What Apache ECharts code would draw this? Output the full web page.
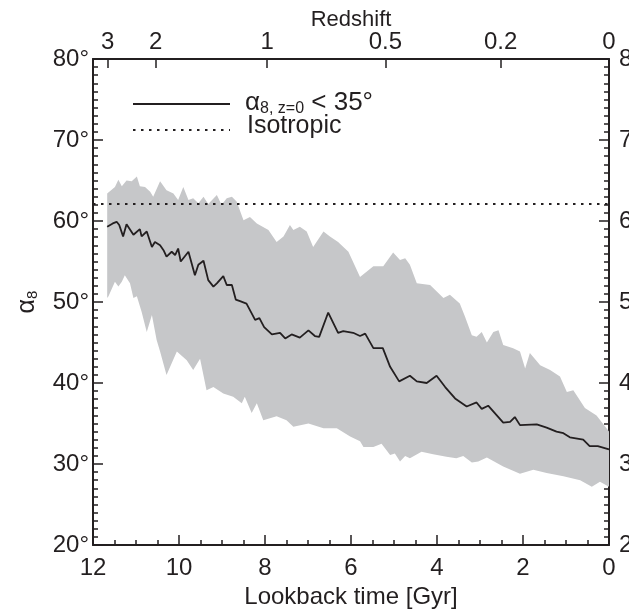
<!DOCTYPE html>
<html>
<head>
<meta charset="utf-8">
<script src="https://cdn.jsdelivr.net/npm/echarts@6/dist/echarts.min.js"></script>
<style>
html, body { margin: 0; padding: 0; background: #fff; }
#chart { width: 629px; height: 612px; }
</style>
</head>
<body>
<div id="chart"></div>
<script>
// median alpha_8 vs lookback time [Gyr]
const lineT = [11.67, 11.54, 11.45, 11.39, 11.30, 11.22, 11.06, 10.91, 10.87, 10.75, 10.63, 10.56, 10.44, 10.36, 10.29, 10.17, 10.09, 10.02, 9.96, 9.78, 9.63, 9.55, 9.43, 9.32, 9.20, 9.12, 8.97, 8.89, 8.77, 8.68, 8.58, 8.43, 8.23, 8.13, 8.02, 7.84, 7.65, 7.53, 7.38, 7.19, 6.99, 6.84, 6.74, 6.53, 6.30, 6.18, 5.95, 5.79, 5.67, 5.48, 5.26, 5.09, 4.88, 4.63, 4.47, 4.24, 4.01, 3.81, 3.58, 3.31, 3.08, 2.96, 2.81, 2.46, 2.30, 2.19, 2.07, 1.68, 1.45, 1.22, 1.06, 0.91, 0.60, 0.45, 0.26, 0.00]
const lineV = [59.3, 59.7, 59.9, 59.5, 58.1, 59.6, 58.3, 59.0, 58.1, 58.7, 56.8, 57.4, 57.0, 56.4, 55.6, 56.2, 55.8, 56.6, 55.0, 56.2, 53.3, 54.6, 55.1, 52.7, 51.9, 52.3, 53.2, 52.1, 52.1, 50.3, 50.1, 49.8, 47.8, 48.0, 46.9, 46.0, 46.2, 45.5, 46.0, 45.6, 46.5, 45.8, 45.7, 48.7, 46.2, 46.4, 46.2, 45.8, 46.1, 44.3, 44.3, 42.0, 40.2, 40.9, 40.2, 40.0, 40.9, 39.5, 38.1, 37.1, 37.6, 36.8, 37.2, 35.1, 35.2, 35.8, 34.8, 34.9, 34.5, 34.0, 33.8, 33.3, 33.0, 32.2, 32.2, 31.8]

// upper edge of the shaded range
const upperT = [11.67, 11.49, 11.41, 11.33, 11.22, 11.10, 10.98, 10.91, 10.79, 10.67, 10.60, 10.44, 10.29, 10.13, 10.02, 9.90, 9.78, 9.67, 9.55, 9.43, 9.32, 9.12, 9.01, 8.89, 8.77, 8.66, 8.50, 8.35, 8.19, 7.92, 7.73, 7.57, 7.42, 7.34, 7.19, 7.03, 6.88, 6.64, 6.49, 6.30, 6.06, 5.79, 5.48, 5.25, 5.02, 4.86, 4.74, 4.63, 4.47, 4.16, 3.85, 3.70, 3.47, 3.35, 3.19, 3.08, 2.96, 2.84, 2.69, 2.57, 2.46, 2.23, 2.07, 1.95, 1.84, 1.60, 1.37, 1.14, 0.98, 0.83, 0.56, 0.29, 0.00]
const upperV = [63.4, 64.2, 65.1, 64.3, 65.0, 64.9, 65.5, 64.3, 64.2, 63.6, 63.0, 64.9, 63.8, 63.4, 62.6, 64.2, 62.6, 62.8, 62.2, 63.0, 62.1, 63.2, 62.0, 62.8, 63.0, 62.4, 60.1, 60.5, 59.7, 58.9, 57.4, 58.1, 59.5, 58.9, 59.3, 58.7, 56.8, 58.7, 58.1, 57.4, 56.2, 53.1, 54.4, 54.4, 56.1, 55.2, 55.4, 54.6, 52.3, 52.1, 50.5, 50.9, 49.8, 48.2, 45.9, 45.7, 46.3, 45.0, 46.3, 46.5, 44.7, 44.3, 43.9, 41.8, 43.7, 42.2, 41.6, 40.8, 38.9, 39.1, 36.9, 36.0, 34.0]

// lower edge of the shaded range
const lowerT = [11.67, 11.64, 11.49, 11.41, 11.33, 11.26, 11.14, 11.06, 10.98, 10.87, 10.75, 10.63, 10.52, 10.44, 10.29, 10.05, 9.82, 9.67, 9.51, 9.36, 9.20, 8.97, 8.74, 8.54, 8.47, 8.31, 8.19, 8.04, 7.73, 7.50, 7.34, 6.99, 6.64, 6.33, 6.02, 5.79, 5.71, 5.48, 5.29, 5.09, 4.98, 4.86, 4.74, 4.63, 4.36, 4.09, 3.78, 3.55, 3.39, 3.19, 3.04, 2.84, 2.46, 2.07, 1.76, 1.45, 1.06, 0.67, 0.40, 0.21, 0.00]
const lowerV = [50.5, 50.7, 52.5, 51.9, 52.5, 53.3, 52.3, 50.5, 50.7, 48.8, 46.3, 48.4, 45.3, 43.9, 41.0, 43.9, 42.8, 41.6, 43.0, 39.1, 39.5, 38.7, 38.3, 37.5, 38.3, 36.3, 37.5, 35.4, 35.9, 35.4, 34.6, 35.0, 34.4, 34.4, 33.4, 32.8, 32.1, 32.1, 32.5, 31.1, 31.3, 30.3, 31.0, 30.7, 31.5, 31.2, 30.9, 30.7, 31.0, 30.2, 30.3, 30.8, 29.7, 28.8, 29.3, 28.9, 28.5, 28.0, 27.2, 27.8, 27.2]

const isotropicLevel = 62.1

// redshift ticks on the top axis, placed at their lookback time
const zTickAt = [11.66, 10.54, 7.95, 5.20, 2.52, 0]
const zTickLabels = ['3', '2', '1', '0.5', '0.2', '0']

const FONT = "'Liberation Sans', Arial, sans-serif"
const INK = '#231f20'
const BAND = '#c6c7c9'

const linePts = lineT.map((t, i) => [t, lineV[i]])
const bandRing = upperT.map((t, i) => [t, upperV[i]])
  .concat(lowerT.map((t, i) => [t, lowerV[i]]).reverse())

const axisLine = { show: true, onZero: false, lineStyle: { color: INK, width: 2 } }
const tickStyle = { color: INK, width: 1.5 }

function yAxis(position, margin) {
  return {
    type: 'value',
    position,
    min: 20,
    max: 80,
    interval: 10,
    axisLine,
    axisTick: { show: true, inside: true, length: 10, lineStyle: tickStyle },
    minorTick: { show: true, splitNumber: 10, length: 5, lineStyle: tickStyle },
    splitLine: { show: false },
    axisLabel: { formatter: '{value}°', fontFamily: FONT, fontSize: 24, color: INK, margin },
  }
}

const chart = echarts.init(document.getElementById('chart'))

chart.setOption({
  animation: false,
  grid: { left: 93, right: 20, top: 59, bottom: 67, outerBoundsMode: 'none' },
  xAxis: [
    {
      type: 'value',
      position: 'bottom',
      min: 0,
      max: 12,
      interval: 2,
      inverse: true,
      axisLine,
      axisTick: { show: true, inside: true, length: 10, lineStyle: tickStyle },
      minorTick: { show: true, splitNumber: 4, length: 5, lineStyle: tickStyle },
      splitLine: { show: false },
      axisLabel: { fontFamily: FONT, fontSize: 24, color: INK, margin: 11 },
      name: 'Lookback time [Gyr]',
      nameLocation: 'middle',
      nameGap: 40,
      nameTextStyle: { fontFamily: FONT, fontSize: 24, color: INK },
    },
    {
      type: 'value',
      position: 'top',
      min: 0,
      max: 12,
      inverse: true,
      axisLine,
      axisTick: { show: true, inside: true, length: 9, lineStyle: tickStyle, customValues: zTickAt },
      splitLine: { show: false },
      axisLabel: {
        customValues: zTickAt,
        formatter: v => zTickLabels[zTickAt.indexOf(v)],
        fontFamily: FONT, fontSize: 24, color: INK, margin: 5,
      },
      name: 'Redshift',
      nameLocation: 'middle',
      nameGap: 28,
      nameMoveOverlap: false,
      nameTextStyle: { fontFamily: FONT, fontSize: 22, color: INK },
    },
  ],
  yAxis: [
    Object.assign(yAxis('left', 4), {
      name: '{a|α}{s|8}',
      nameLocation: 'middle',
      nameGap: 52,
      nameRotate: 90,
      nameTextStyle: {
        rich: {
          a: { fontFamily: FONT, fontSize: 25, color: INK, lineHeight: 28 },
          s: { fontFamily: FONT, fontSize: 15, color: INK, lineHeight: 15, padding: [11, 0, 0, 0] },
        },
      },
    }),
    yAxis('right', 10),
  ],
  series: [
    {
      type: 'custom',
      xAxisIndex: 0,
      yAxisIndex: 0,
      data: bandRing,
      z: 1,
      renderItem(params, api) {
        if (params.dataIndex !== 0) return null
        return {
          type: 'polygon',
          shape: { points: bandRing.map(p => api.coord(p)) },
          style: { fill: BAND },
        }
      },
    },
    {
      type: 'line',
      data: [[12, isotropicLevel], [0, isotropicLevel]],
      showSymbol: false,
      z: 3,
      lineStyle: { color: INK, width: 2, type: [2.5, 5.5] },
    },
    {
      type: 'line',
      data: linePts,
      showSymbol: false,
      z: 4,
      lineStyle: { color: INK, width: 1.8 },
    },
  ],
  graphic: [
    { type: 'line', shape: { x1: 133, y1: 104, x2: 230, y2: 104 }, style: { stroke: INK, lineWidth: 2 } },
    { type: 'line', shape: { x1: 133, y1: 130, x2: 230, y2: 130 }, style: { stroke: INK, lineWidth: 2, lineDash: [2.5, 5.5] } },
    {
      type: 'text',
      left: 245,
      top: 89,
      style: {
        text: '{a|α}{s|8, z=0}{a| < 35°}',
        rich: {
          a: { fontFamily: FONT, fontSize: 26, fill: INK, lineHeight: 28 },
          s: { fontFamily: FONT, fontSize: 16, fill: INK, lineHeight: 16, padding: [12, 0, 0, 0] },
        },
      },
    },
    {
      type: 'text',
      left: 247,
      top: 114,
      style: { text: 'Isotropic', fontFamily: FONT, fontSize: 25, fill: INK },
    },
  ],
})
</script>
</body>
</html>
